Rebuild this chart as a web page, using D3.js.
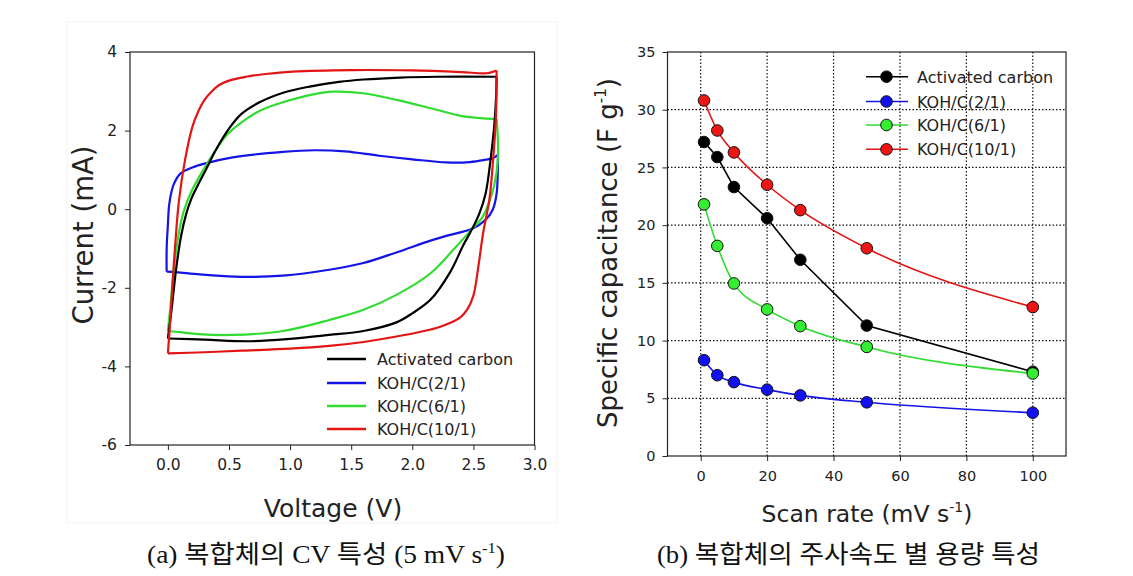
<!DOCTYPE html>
<html>
<head>
<meta charset="utf-8">
<script src="https://cdn.jsdelivr.net/npm/d3@7"></script>
<style>
  html, body { margin: 0; padding: 0; background: #fff; }
  svg { display: block; }
</style>
</head>
<body>
<svg id="chart" width="1133" height="576"></svg>
<script>
// ---------------- DATA ----------------
// (a) CV curves, 5 mV/s : [Voltage (V), Current (mA)]
const cvSeries = ["Activated carbon", "KOH/C(2/1)", "KOH/C(6/1)", "KOH/C(10/1)"];
const acAnodic = [[0,-3.29],[0.03,-2.56],[0.07,-1.46],[0.11,-0.65],[0.15,-0.12],[0.19,0.25],[0.24,0.58],[0.31,1.0],[0.4,1.55],[0.5,2.05],[0.6,2.42],[0.75,2.72],[0.95,2.97],[1.16,3.12],[1.4,3.24],[1.6,3.3],[1.9,3.35],[2.2,3.37],[2.69,3.37]];
const acCathodic = [[2.69,3.37],[2.685,2.8],[2.67,2.1],[2.64,1.25],[2.6,0.4],[2.55,-0.1],[2.49,-0.5],[2.42,-0.9],[2.31,-1.6],[2.15,-2.3],[2.0,-2.65],[1.87,-2.88],[1.6,-3.1],[1.32,-3.2],[1.0,-3.3],[0.67,-3.36],[0.3,-3.32],[0,-3.29]];
const k2Anodic = [[-0.01,-1.59],[-0.01,-1.0],[0.0,-0.4],[0.01,0.1],[0.03,0.45],[0.05,0.65],[0.1,0.9],[0.2,1.06],[0.3,1.16],[0.53,1.32],[0.94,1.46],[1.2,1.5],[1.45,1.47],[1.73,1.36],[2.0,1.27],[2.28,1.19],[2.47,1.2],[2.6,1.26],[2.66,1.3],[2.7,1.38]];
const k2Cathodic = [[2.7,1.38],[2.7,1.0],[2.69,0.4],[2.66,0.0],[2.6,-0.27],[2.49,-0.5],[2.3,-0.66],[2.15,-0.8],[1.87,-1.1],[1.6,-1.37],[1.32,-1.54],[0.94,-1.69],[0.61,-1.72],[0.26,-1.66],[0.07,-1.6],[-0.01,-1.59]];
const k6Anodic = [[0,-3.1],[0.02,-2.5],[0.05,-1.5],[0.09,-0.6],[0.13,-0.05],[0.2,0.5],[0.29,1.0],[0.37,1.4],[0.48,1.88],[0.6,2.2],[0.75,2.5],[0.94,2.72],[1.2,2.93],[1.35,2.99],[1.6,2.95],[1.87,2.78],[2.15,2.57],[2.42,2.36],[2.69,2.29]];
const k6Cathodic = [[2.69,2.29],[2.7,1.8],[2.7,1.25],[2.67,0.6],[2.62,0.1],[2.57,-0.22],[2.49,-0.5],[2.36,-0.95],[2.15,-1.63],[1.87,-2.18],[1.6,-2.56],[1.32,-2.82],[0.94,-3.1],[0.53,-3.2],[0.25,-3.18],[0.1,-3.13],[0,-3.1]];
const k10Anodic = [[0,-3.67],[0.02,-2.8],[0.04,-1.8],[0.06,-0.9],[0.09,0.2],[0.14,1.25],[0.2,2.09],[0.25,2.5],[0.3,2.78],[0.36,3.0],[0.42,3.16],[0.52,3.29],[0.64,3.37],[0.8,3.44],[1.02,3.5],[1.5,3.54],[2.0,3.53],[2.4,3.49],[2.61,3.46],[2.69,3.53]];
const k10Cathodic = [[2.69,3.53],[2.685,2.4],[2.66,1.2],[2.63,0.23],[2.58,-0.6],[2.54,-1.47],[2.5,-2.2],[2.45,-2.55],[2.39,-2.76],[2.23,-2.99],[2.05,-3.13],[1.87,-3.24],[1.6,-3.38],[1.32,-3.48],[1.0,-3.55],[0.6,-3.6],[0.3,-3.64],[0,-3.67]];
const cvXTicks = [0, 0.5, 1.0, 1.5, 2.0, 2.5, 3.0];
const cvYTicks = [-6, -4, -2, 0, 2, 4];

// (b) specific capacitance vs scan rate
const scanRates = [1, 5, 10, 20, 30, 50, 100];
const capAC  = [27.2, 25.9, 23.3, 20.6, 17.0, 11.3, 7.3];
const cap2   = [8.3, 7.0, 6.4, 5.75, 5.25, 4.65, 3.75];
const cap6   = [21.8, 18.2, 14.95, 12.7, 11.25, 9.45, 7.15];
const cap10  = [30.8, 28.2, 26.3, 23.5, 21.3, 18.0, 12.9];
const srXTicks = [0, 20, 40, 60, 80, 100];
const srYTicks = [0, 5, 10, 15, 20, 25, 30, 35];

const colors = ["#000000", "#1414e6", "#2fdc2f", "#e31414"];
const markerFill = ["#000000", "#1010f0", "#33ee33", "#ee1515"];

// ---------------- DRAW ----------------
const svg = d3.select("#chart");
const FONT = "'DejaVu Sans', Verdana, sans-serif";
const AXC = "#222";

// ======== (a) CV ========
const xL = d3.scaleLinear().domain([-0.31, 3.0]).range([130, 534.5]);
const yL = d3.scaleLinear().domain([-6, 4]).range([445, 52]);

const gA = svg.append("g");
gA.append("rect").attr("x", 67).attr("y", 22).attr("width", 490).attr("height", 501)
  .attr("fill", "none").attr("stroke", "#f3f3f3");

const axLB = gA.append("g").attr("transform", "translate(0,445)")
  .call(d3.axisBottom(xL).tickValues(cvXTicks).tickFormat(d3.format(".1f")).tickSizeOuter(0).tickSize(5).tickPadding(9));
const axLL = gA.append("g").attr("transform", "translate(130,0)")
  .call(d3.axisLeft(yL).tickValues(cvYTicks).tickFormat(d => d).tickSizeOuter(0).tickSize(5).tickPadding(8));
[axLB, axLL].forEach(a => {
  a.select(".domain").remove();
  a.selectAll("line").attr("stroke", AXC);
  a.selectAll("text").attr("font-family", FONT).attr("font-size", 15.5).attr("fill", AXC);
});
gA.append("rect").attr("x", xL.range()[0]).attr("y", yL.range()[1])
  .attr("width", xL.range()[1] - xL.range()[0]).attr("height", yL.range()[0] - yL.range()[1])
  .attr("fill", "none").attr("stroke", AXC).attr("stroke-width", 1.2);

const cvLine = d3.line().x(d => xL(d[0])).y(d => yL(d[1])).curve(d3.curveCatmullRom.alpha(0.5));
const cvBranches = [[acAnodic, acCathodic], [k2Anodic, k2Cathodic], [k6Anodic, k6Cathodic], [k10Anodic, k10Cathodic]];
const cvOrder = [1, 2, 0, 3];
cvOrder.forEach(i => {
  cvBranches[i].forEach(br => {
    gA.append("path").attr("d", cvLine(br)).attr("fill", "none")
      .attr("stroke", colors[i]).attr("stroke-width", 2.2).attr("stroke-linejoin", "round");
  });
});

// legend (a)
const legA = [359, 383, 406, 429];
cvSeries.forEach((s, i) => {
  gA.append("line").attr("x1", 327).attr("x2", 366).attr("y1", legA[i]).attr("y2", legA[i])
    .attr("stroke", colors[i]).attr("stroke-width", 2.4);
  gA.append("text").attr("x", 377).attr("y", legA[i] + 6).text(s)
    .attr("font-family", FONT).attr("font-size", 16).attr("fill", AXC);
});

gA.append("text").attr("transform", "translate(93,235) rotate(-90)").attr("text-anchor", "middle")
  .attr("font-family", FONT).attr("font-size", 27.5).attr("fill", AXC).text("Current (mA)");
gA.append("text").attr("x", 333).attr("y", 517).attr("text-anchor", "middle")
  .attr("font-family", FONT).attr("font-size", 25).attr("fill", AXC).text("Voltage (V)");

// ======== (b) Scan rate ========
const xR = d3.scaleLinear().domain([-10, 110]).range([667.5, 1066]);
const yR = d3.scaleLinear().domain([0, 35]).range([456, 52]);
const gB = svg.append("g");

const axRB = gB.append("g").attr("transform", "translate(0,456)")
  .call(d3.axisBottom(xR).tickValues(srXTicks).tickSizeOuter(0).tickSize(5).tickPadding(10));
const axRL = gB.append("g").attr("transform", "translate(667.5,0)")
  .call(d3.axisLeft(yR).tickValues(srYTicks).tickSizeOuter(0).tickSize(5).tickPadding(7));
[axRB, axRL].forEach(a => {
  a.select(".domain").remove();
  a.selectAll("line").attr("stroke", AXC);
  a.selectAll("text").attr("font-family", FONT).attr("font-size", 14.5).attr("fill", AXC);
});

// legend (b) (under grid)
const legB = [76.7, 101.5, 125, 149.3];
cvSeries.forEach((s, i) => {
  gB.append("line").attr("x1", 866).attr("x2", 908).attr("y1", legB[i]).attr("y2", legB[i])
    .attr("stroke", colors[i]).attr("stroke-width", 1.6);
  gB.append("circle").attr("cx", 886.5).attr("cy", legB[i]).attr("r", 5.8)
    .attr("fill", markerFill[i]).attr("stroke", "#111").attr("stroke-width", 1);
  gB.append("text").attr("x", 917).attr("y", legB[i] + 6).text(s)
    .attr("font-family", FONT).attr("font-size", 16).attr("fill", AXC);
});

// grid
srXTicks.forEach(v => {
  gB.append("line").attr("x1", xR(v)).attr("x2", xR(v)).attr("y1", yR(0)).attr("y2", yR(35))
    .attr("stroke", "#111").attr("stroke-width", 1.2).attr("stroke-dasharray", "1.5,2");
});
srYTicks.filter(v => v > 0 && v < 35).forEach(v => {
  gB.append("line").attr("x1", xR(-10)).attr("x2", xR(110)).attr("y1", yR(v)).attr("y2", yR(v))
    .attr("stroke", "#111").attr("stroke-width", 1.2).attr("stroke-dasharray", "1.5,2");
});
gB.append("rect").attr("x", xR.range()[0]).attr("y", yR.range()[1])
  .attr("width", xR.range()[1] - xR.range()[0]).attr("height", yR.range()[0] - yR.range()[1])
  .attr("fill", "none").attr("stroke", AXC).attr("stroke-width", 1.2);

const capSets = [capAC, cap2, cap6, cap10];
capSets.forEach((vals, i) => {
  const pts = scanRates.map((x, j) => [x, vals[j]]);
  const ln = d3.line().x(d => xR(d[0])).y(d => yR(d[1]))
    .curve(i === 0 ? d3.curveLinear : d3.curveMonotoneX);
  gB.append("path").attr("d", ln(pts)).attr("fill", "none")
    .attr("stroke", colors[i]).attr("stroke-width", 1.6);
});
capSets.forEach((vals, i) => {
  gB.selectAll(null).data(scanRates.map((x, j) => [x, vals[j]])).enter()
    .append("circle").attr("cx", d => xR(d[0])).attr("cy", d => yR(d[1])).attr("r", 5.8)
    .attr("fill", markerFill[i]).attr("stroke", "#111").attr("stroke-width", 1);
});

const yt = gB.append("text").attr("transform", "translate(617,253) rotate(-90)").attr("text-anchor", "middle")
  .attr("font-family", FONT).attr("font-size", 26).attr("fill", AXC);
yt.append("tspan").text("Specific capacitance (F g");
yt.append("tspan").attr("dy", -11).attr("font-size", 15).text("-1");
yt.append("tspan").attr("dy", 11).text(")");

const xt = gB.append("text").attr("x", 867).attr("y", 522).attr("text-anchor", "middle")
  .attr("font-family", FONT).attr("font-size", 23.5).attr("fill", AXC);
xt.append("tspan").text("Scan rate (mV s");
xt.append("tspan").attr("dy", -10).attr("font-size", 14).text("-1");
xt.append("tspan").attr("dy", 10).text(")");

// ======== captions ========
const CAPF = "'Liberation Serif', 'Noto Sans CJK KR', serif";
const ca = svg.append("text").attr("x", 147).attr("y", 563)
  .attr("font-family", CAPF).attr("font-size", 25).attr("fill", "#111")
  .attr("textLength", 358).attr("lengthAdjust", "spacingAndGlyphs");
ca.append("tspan").text("(a) 복합체의 CV 특성 (5 mV s");
ca.append("tspan").attr("dy", -10).attr("font-size", 15).text("-1");
ca.append("tspan").attr("dy", 10).text(")");

svg.append("text").attr("x", 657).attr("y", 563)
  .attr("font-family", CAPF).attr("font-size", 25).attr("fill", "#111")
  .attr("textLength", 383).attr("lengthAdjust", "spacingAndGlyphs")
  .text("(b) 복합체의 주사속도 별 용량 특성");
</script>
</body>
</html>
